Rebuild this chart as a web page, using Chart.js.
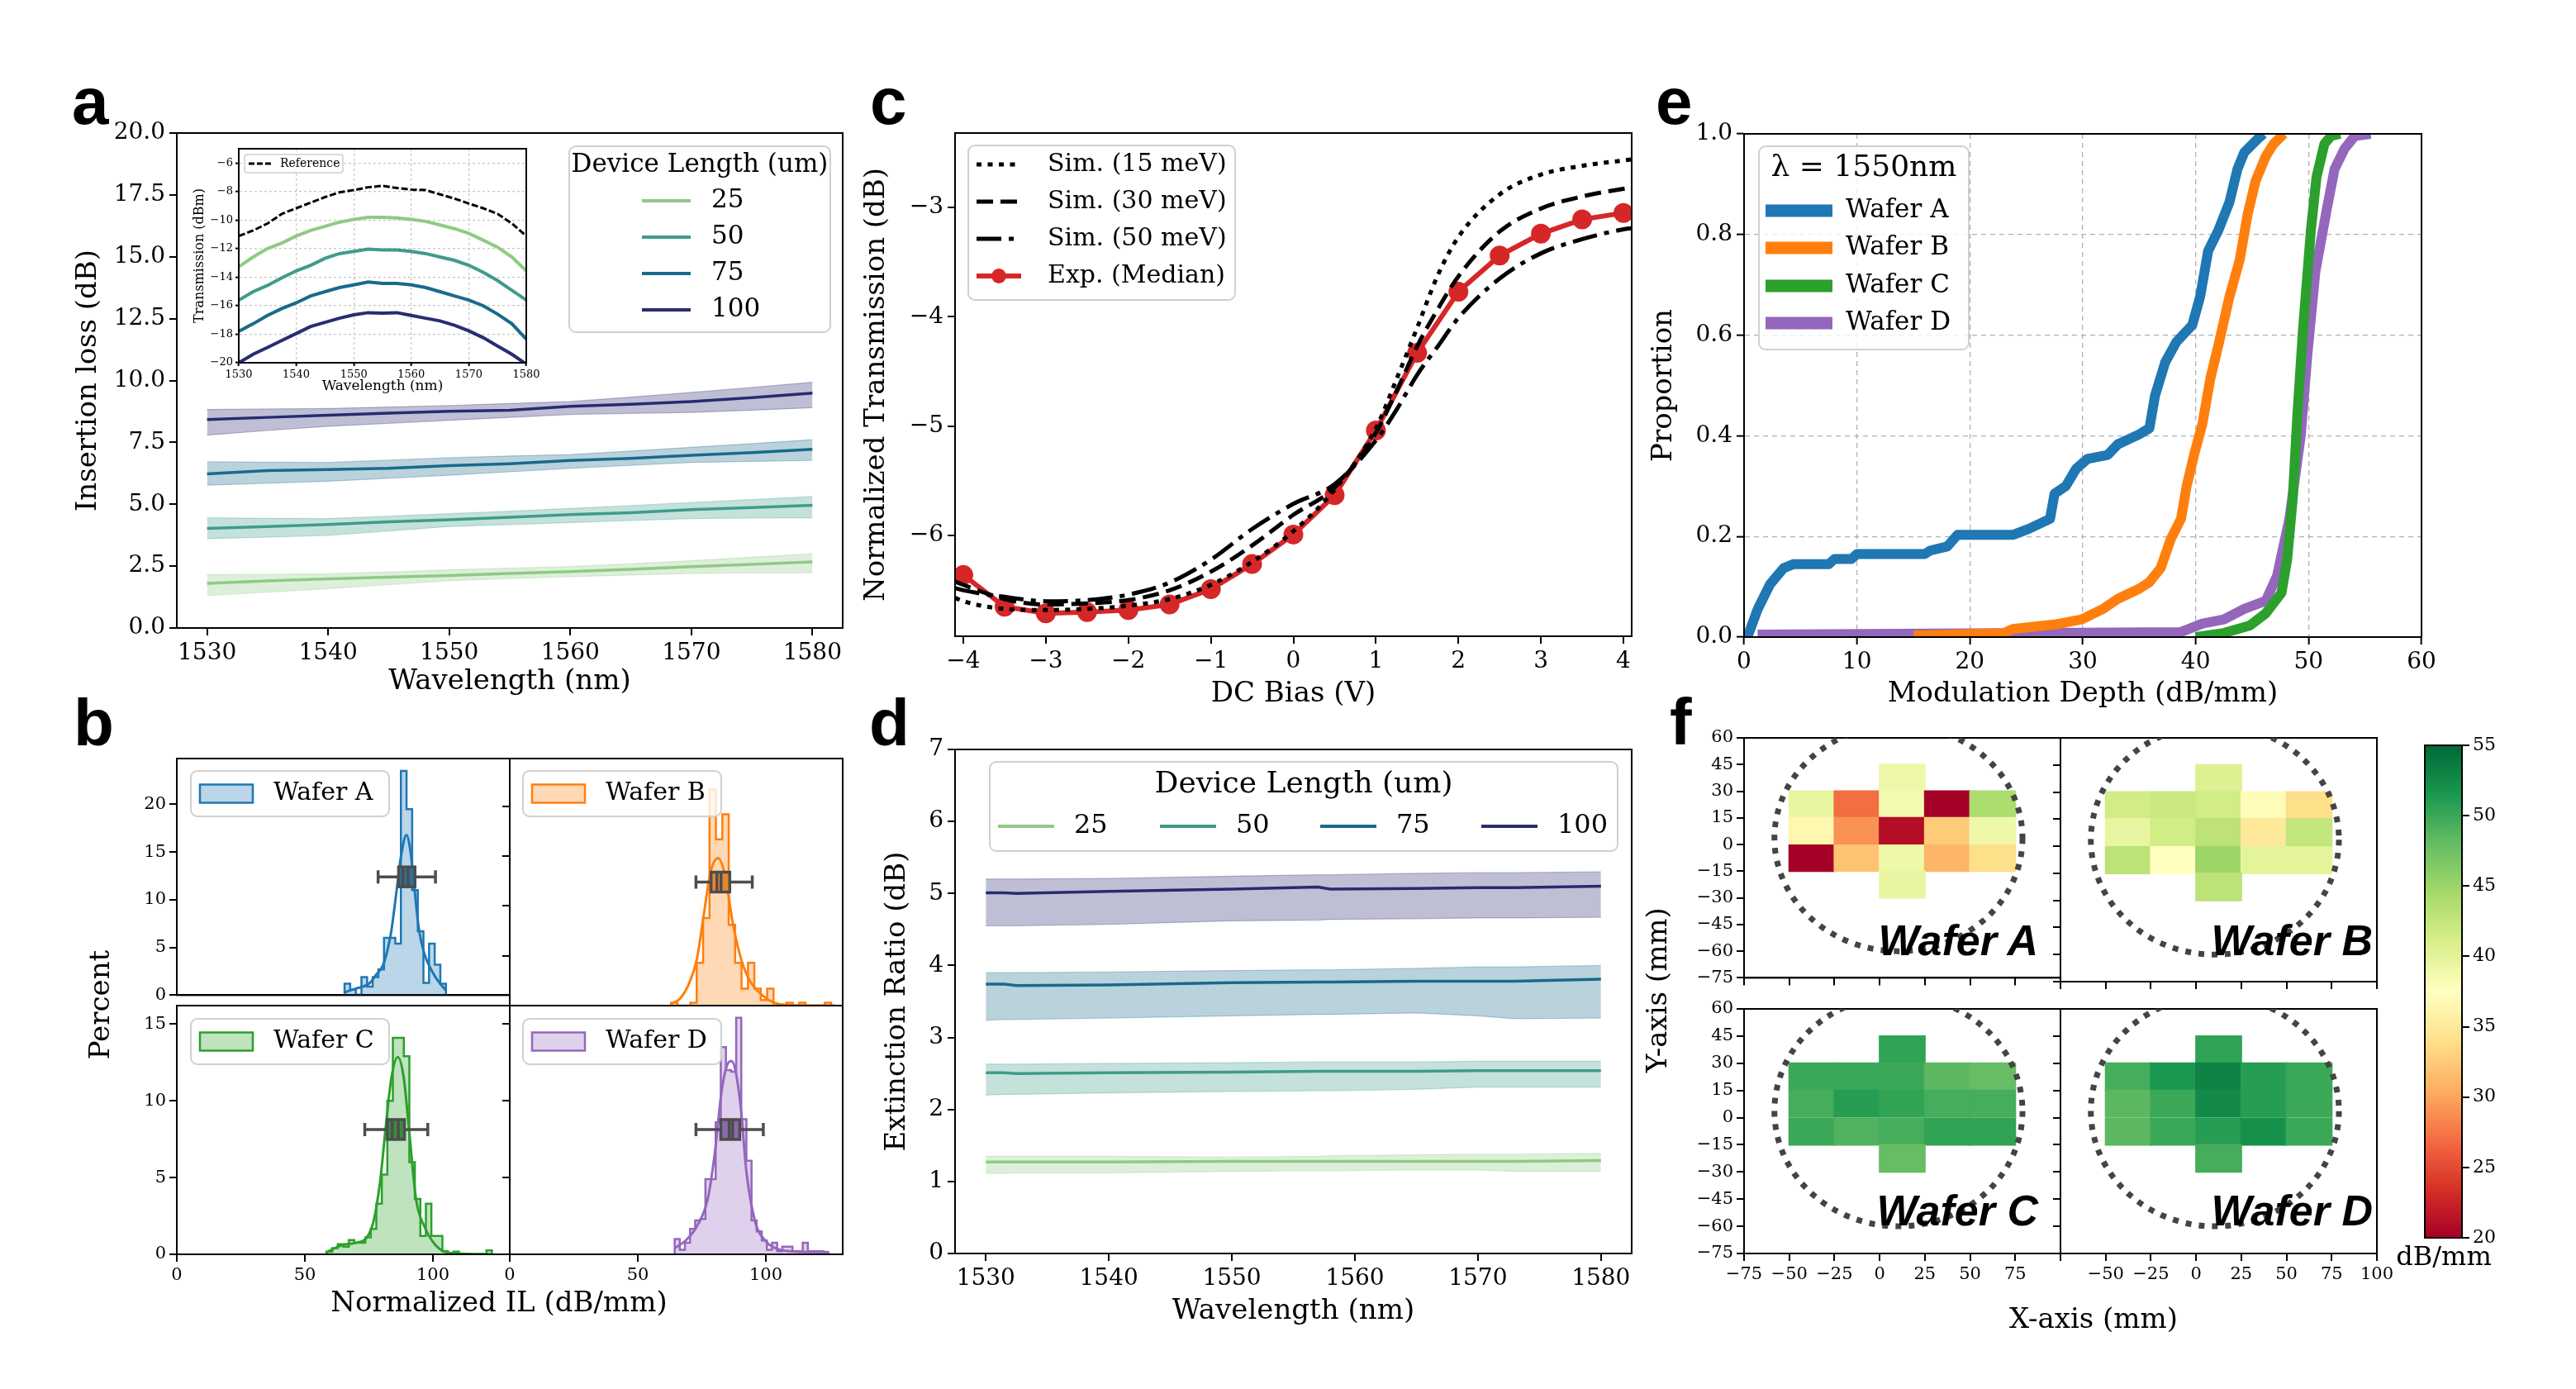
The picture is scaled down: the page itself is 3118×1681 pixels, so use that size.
<!DOCTYPE html>
<html>
<head>
<meta charset="utf-8">
<script src="https://cdn.jsdelivr.net/npm/chart.js"></script>
<style>
  body { margin: 0; width: 3118px; height: 1681px; position: relative; background: #fff; overflow: hidden; }
  canvas { position: absolute; }
  svg { position: absolute; left: 0; top: 0; }
</style>
</head>
<body>
<script>
const SERIF = "'DejaVu Serif', serif";
const SANS = "'Liberation Sans', Arial, sans-serif";

// ---------- panel a: insertion loss ----------
const wlTicks = [1530, 1540, 1550, 1560, 1570, 1580];
const ilTicks = [0, 2.5, 5, 7.5, 10, 12.5, 15, 17.5, 20];
const wlIL = [1530, 1535, 1540, 1545, 1550, 1555, 1560, 1565, 1570, 1575, 1580];
const il25 = [1.80, 1.90, 1.99, 2.05, 2.12, 2.20, 2.28, 2.37, 2.48, 2.57, 2.67];
const il25Lo = [1.31, 1.45, 1.59, 1.75, 1.91, 2.00, 2.07, 2.14, 2.20, 2.22, 2.23];
const il25Hi = [2.15, 2.17, 2.19, 2.27, 2.35, 2.42, 2.48, 2.60, 2.72, 2.86, 3.00];
const il50 = [4.02, 4.10, 4.18, 4.29, 4.37, 4.47, 4.58, 4.66, 4.78, 4.87, 4.96];
const il50Lo = [3.61, 3.67, 3.74, 3.92, 4.10, 4.18, 4.26, 4.34, 4.42, 4.44, 4.45];
const il50Hi = [4.45, 4.43, 4.42, 4.52, 4.62, 4.72, 4.83, 4.95, 5.07, 5.19, 5.31];
const il75 = [6.23, 6.36, 6.40, 6.45, 6.56, 6.64, 6.77, 6.85, 6.98, 7.09, 7.22];
const il75Lo = [5.77, 5.85, 5.93, 6.05, 6.17, 6.31, 6.45, 6.57, 6.69, 6.73, 6.77];
const il75Hi = [6.72, 6.70, 6.69, 6.78, 6.88, 6.95, 7.01, 7.15, 7.30, 7.45, 7.61];
const il100 = [8.42, 8.51, 8.60, 8.68, 8.76, 8.80, 8.96, 9.04, 9.15, 9.31, 9.49];
const il100Lo = [7.79, 7.98, 8.15, 8.27, 8.39, 8.51, 8.63, 8.67, 8.71, 8.80, 8.90];
const il100Hi = [8.83, 8.85, 8.87, 8.93, 8.99, 9.07, 9.15, 9.33, 9.52, 9.72, 9.93];

// inset spectra
const wlInset = [1530, 1532.5, 1535, 1537.5, 1540, 1542.5, 1545, 1547.5, 1550, 1552.5, 1555,
                 1557.5, 1560, 1562.5, 1565, 1567.5, 1570, 1572.5, 1575, 1577.5, 1580];
const trRef = [-11.12, -10.73, -10.24, -9.56, -9.17, -8.78, -8.39, -8.06, -7.90, -7.70, -7.60,
               -7.75, -7.86, -7.90, -8.20, -8.49, -8.84, -9.17, -9.56, -10.24, -11.12];
const tr25 = [-13.27, -12.59, -12.00, -11.61, -11.12, -10.73, -10.44, -10.15, -9.95, -9.81, -9.81,
              -9.85, -9.95, -10.09, -10.34, -10.60, -10.93, -11.41, -11.90, -12.59, -13.56];
const tr50 = [-15.61, -15.02, -14.58, -14.05, -13.56, -13.17, -12.68, -12.35, -12.20, -12.04, -12.10,
              -12.10, -12.20, -12.35, -12.59, -12.82, -13.17, -13.66, -14.24, -14.93, -15.61];
const tr75 = [-17.80, -17.27, -16.68, -16.20, -15.80, -15.32, -15.02, -14.73, -14.54, -14.34, -14.44,
              -14.44, -14.54, -14.73, -15.02, -15.32, -15.61, -16.00, -16.59, -17.27, -18.34];
const tr100 = [-20.00, -19.41, -18.93, -18.44, -17.95, -17.46, -17.17, -16.88, -16.64, -16.49, -16.52,
               -16.49, -16.68, -16.88, -17.07, -17.37, -17.76, -18.24, -18.83, -19.41, -20.10];
const trTicks = [-20, -18, -16, -14, -12, -10, -8, -6];

// ---------- panel b: normalized IL histograms ----------
const binA = [65.5, 2.2];
const pctA = [1.2, 0.6, 0.05, 1.9, 0.9, 1.9, 2.7, 6.0, 6.0, 5.4, 23.5, 19.5, 11.0, 6.7, 1.3, 5.4, 3.2, 1.2];
const binB = [63, 2.5];
const pctB = [0.3, 0, 0, 0.3, 4.3, 8.8, 21.7, 16.7, 19.2, 8.1, 4.3, 1.7, 4.3, 1.7, 0.55, 1.7,
              0, 0, 0.3, 0, 0.3, 0, 0, 0, 0.3];
const binC = [58.55, 2.15];
const pctC = [0.18, 0.4, 0.66, 0.5, 0.93, 0.75, 0.75, 1.1, 1.65, 3.3, 5.2, 10.0, 14.1, 14.1, 12.9,
              6.0, 3.6, 1.2, 3.3, 1.2, 1.2, 0.2, 0.05, 0.18, 0, 0, 0, 0, 0, 0.25];
const binD = [64.4, 2.0];
const pctD = [1.0, 0.3, 0.75, 1.65, 2.2, 2.3, 4.9, 4.9, 8.6, 13.5, 12.0, 11.9, 15.4, 8.8, 6.1,
              2.2, 1.5, 0.9, 0.3, 0.75, 0.2, 0.5, 0.5, 0.2, 0.2, 0.75, 0.2, 0.2, 0.2, 0.15];
const kdeAx = [65.5, 70, 75, 78, 80.6, 82.5, 83.8, 85.7, 87.5, 89.7, 91, 92.4, 93.5, 94.6, 96.7, 99.9, 102, 104.3, 105.1];
const kdeAy = [0.3, 0.7, 1.2, 2.2, 3.2, 5.0, 6.8, 10.7, 14.5, 16.8, 15.5, 12.3, 9.3, 6.8, 4.3, 2.4, 1.5, 0.75, 0.5];
const kdeBx = [62.8, 66.5, 69.8, 73, 75.7, 78.4, 81.4, 84.3, 87, 90.2, 93.5, 98.8, 103.1, 110, 127.1];
const kdeBy = [0.15, 0.7, 2.1, 4.6, 9.0, 13.4, 14.8, 12.8, 8.4, 4.8, 2.6, 1.0, 0.3, 0.05, 0];
const kdeCx = [58, 64.5, 69.9, 74.2, 76.9, 79.5, 81.7, 83.8, 86.3, 88.6, 90.8, 93.4, 96.7, 101, 105.3, 111.8, 122.5];
const kdeCy = [0.1, 0.6, 0.75, 1.1, 2.2, 4.9, 8.5, 11.5, 12.85, 11.5, 7.9, 3.6, 1.8, 0.6, 0.13, 0.04, 0];
const kdeDx = [64.4, 68.7, 73, 77.3, 80, 82.7, 84.8, 86.5, 88.1, 90.3, 92.4, 95.7, 100, 105.4, 111.8, 123.7];
const kdeDy = [0.4, 0.9, 1.8, 3.6, 6.5, 10.6, 12.3, 12.6, 12.0, 9.4, 5.4, 2.2, 0.85, 0.3, 0.18, 0.15];
// whisker low, q1, line 1, line 2, q3, whisker high
const boxA = [78.6, 86.6, 88.3, 90.3, 93.0, 101.0], boxAy = 12.4;
const boxB = [72.7, 78.6, 80.9, 82.5, 85.9, 94.7], boxBy = 12.4;
const boxC = [73.4, 82.2, 84.1, 86.5, 88.9, 98.0], boxCy = 8.13;
const boxD = [72.7, 82.4, 85.7, 87.0, 89.8, 99.0], boxDy = 8.13;

// ---------- panel c: bias sweep ----------
const biasV = [-4, -3.5, -3, -2.5, -2, -1.5, -1, -0.5, 0, 0.5, 1, 1.5, 2, 2.5, 3, 3.5, 4];
const expMedian = [-6.36, -6.65, -6.71, -6.70, -6.68, -6.63, -6.49, -6.26, -5.99, -5.63, -5.04,
                   -4.33, -3.77, -3.44, -3.24, -3.11, -3.05];
const simBias = [-4.1, -4, -3.5, -3, -2.5, -2, -1.5, -1, -0.5, 0, 0.5, 1, 1.25, 1.5, 1.75, 2, 2.5, 3, 3.5, 4, 4.1];
const sim15 = [-6.57, -6.60, -6.67, -6.68, -6.67, -6.64, -6.58, -6.45, -6.24, -5.96, -5.58, -5.02,
               -4.57, -4.10, -3.62, -3.27, -2.88, -2.70, -2.62, -2.57, -2.56];
const sim30 = [-6.42, -6.45, -6.58, -6.63, -6.62, -6.59, -6.50, -6.33, -6.09, -5.81, -5.56, -5.06,
               -4.68, -4.27, -3.93, -3.63, -3.22, -3.01, -2.90, -2.83, -2.82];
const sim50 = [-6.48, -6.50, -6.56, -6.60, -6.59, -6.54, -6.43, -6.22, -5.94, -5.71, -5.53, -5.13,
               -4.85, -4.53, -4.27, -4.01, -3.65, -3.42, -3.29, -3.20, -3.19];
const biasTicks = [-4, -3, -2, -1, 0, 1, 2, 3, 4];
const ntTicks = [-6, -5, -4, -3];

// ---------- panel d: extinction ratio ----------
const wlER = [1530, 1531.5, 1532.5, 1540, 1550, 1557, 1558, 1565, 1570, 1573, 1580];
const er25 = [1.27, 1.27, 1.27, 1.27, 1.28, 1.28, 1.28, 1.28, 1.28, 1.28, 1.29];
const er25Lo = [1.11, 1.11, 1.12, 1.12, 1.14, 1.15, 1.15, 1.16, 1.16, 1.14, 1.14];
const er25Hi = [1.35, 1.35, 1.35, 1.35, 1.34, 1.35, 1.36, 1.37, 1.38, 1.38, 1.39];
const er50 = [2.51, 2.51, 2.50, 2.51, 2.52, 2.53, 2.53, 2.53, 2.54, 2.54, 2.54];
const er50Lo = [2.20, 2.21, 2.21, 2.23, 2.25, 2.26, 2.26, 2.28, 2.31, 2.31, 2.31];
const er50Hi = [2.63, 2.63, 2.63, 2.64, 2.65, 2.66, 2.66, 2.66, 2.67, 2.67, 2.67];
const er75 = [3.74, 3.74, 3.72, 3.73, 3.76, 3.77, 3.77, 3.78, 3.78, 3.78, 3.81];
const er75Lo = [3.24, 3.25, 3.25, 3.27, 3.30, 3.32, 3.32, 3.34, 3.30, 3.26, 3.27];
const er75Hi = [3.90, 3.90, 3.90, 3.91, 3.93, 3.94, 3.94, 3.96, 3.98, 3.98, 4.00];
const er100 = [5.01, 5.01, 5.00, 5.03, 5.06, 5.09, 5.06, 5.07, 5.08, 5.08, 5.10];
const er100Lo = [4.55, 4.55, 4.55, 4.57, 4.62, 4.63, 4.64, 4.65, 4.66, 4.66, 4.67];
const er100Hi = [5.20, 5.20, 5.20, 5.21, 5.24, 5.26, 5.26, 5.28, 5.29, 5.29, 5.30];
const erTicks = [0, 1, 2, 3, 4, 5, 6, 7];

// ---------- panel e: modulation depth ECDF ----------
const mdAx = [0.3, 1.2, 2.3, 3.5, 4.4, 7.5, 8.0, 9.5, 10.0, 16.0, 16.5, 18.0, 18.9, 23.8, 25.2, 27.1, 27.5,
              28.5, 29.4, 30.4, 32.2, 33.1, 35.0, 35.9, 36.4, 37.3, 38.3, 39.7, 40.4, 41.1, 42.0, 43.0,
              43.7, 44.3, 45.5, 46.0];
const mdAy = [0, 0.055, 0.105, 0.137, 0.145, 0.145, 0.155, 0.155, 0.165, 0.165, 0.172, 0.18, 0.203, 0.203,
              0.215, 0.235, 0.285, 0.30, 0.334, 0.354, 0.362, 0.383, 0.403, 0.415, 0.48, 0.546, 0.587,
              0.62, 0.677, 0.767, 0.808, 0.865, 0.93, 0.963, 0.99, 1.0];
const mdBx = [15, 23, 23.8, 27.5, 29.9, 31.8, 33.1, 35.0, 35.9, 36.9, 37.8, 38.7, 39.2, 39.9, 40.6, 41.3,
              42.0, 43.0, 43.9, 44.6, 45.3, 46.2, 46.9, 47.8];
const mdBy = [0.003, 0.008, 0.016, 0.025, 0.035, 0.056, 0.076, 0.096, 0.109, 0.137, 0.195, 0.235, 0.30,
              0.366, 0.424, 0.514, 0.579, 0.677, 0.75, 0.84, 0.906, 0.955, 0.98, 1.0];
const mdCx = [40, 42.5, 44.8, 46.2, 47.6, 48.1, 48.6, 49.0, 49.5, 50.2, 50.7, 51.4, 52.0, 52.8];
const mdCy = [0, 0.008, 0.023, 0.047, 0.088, 0.154, 0.276, 0.44, 0.61, 0.808, 0.914, 0.98, 0.996, 1.0];
const mdDx = [1.2, 38.7, 40.6, 42.5, 44.3, 46.2, 47.2, 48.3, 49.3, 49.9, 50.6, 51.6, 52.3, 53.2, 54.1, 55.5];
const mdDy = [0.005, 0.01, 0.027, 0.035, 0.056, 0.072, 0.121, 0.235, 0.399, 0.563, 0.726, 0.849, 0.93,
              0.971, 0.996, 1.0];
const mdTicks = [0, 10, 20, 30, 40, 50, 60];
const propTicks = [0, 0.2, 0.4, 0.6, 0.8, 1.0];

// ---------- panel f: wafer maps ----------
const cellX = [-37.5, -12.5, 12.5, 37.5, 62.5];
const cellRows = [[30, 45], [15, 30], [0, 15], [-15, 0], [-30, -15]];
const mapA = [[null, null, 39, null, null], [39.5, 27, 38.5, 20, 44], [36.5, 29, 21, 32.5, 39],
              [20, 32, 39, 31, 34], [null, null, 39.5, null, null]];
const mapB = [[null, null, 40.5, null, null], [41.5, 42, 41.5, 37, 34], [39.5, 41.5, 43, 35, 42.5],
              [43, 37.5, 45, 40, 40], [null, null, 43, null, null]];
const mapC = [[null, null, 50.5, null, null], [50, 50, 50, 48.5, 48], [49.5, 51, 50.5, 49.5, 49.5],
              [50, 49, 49.5, 50.5, 50.5], [null, null, 48, null, null]];
const mapD = [[null, null, 50.5, null, null], [49.5, 51.5, 53, 51, 50], [48.5, 50, 52.5, 51, 50],
              [48.5, 50, 51, 52, 50], [null, null, 49.5, null, null]];
const waferCircle = [10.4, 3.6, 68.6, 63.6];
const mapTicksX = [-75, -50, -25, 0, 25, 50, 75, 100];
const mapTicksY = [-75, -60, -45, -30, -15, 0, 15, 30, 45, 60];
const cbTicks = [20, 25, 30, 35, 40, 45, 50, 55];

// ---------- styles ----------
const lenColors = ['#8fca85', '#3f9b8a', '#196a8b', '#282c70'];
const lenFills = ['rgba(143,202,133,0.3)', 'rgba(63,155,138,0.3)', 'rgba(25,106,139,0.3)', 'rgba(40,44,112,0.3)'];
const tab = ['#1f77b4', '#ff7f0e', '#2ca02c', '#9467bd'];
const tabFill = ['rgba(31,119,180,0.3)', 'rgba(255,127,14,0.3)', 'rgba(44,160,44,0.3)', 'rgba(148,103,189,0.3)'];
const boxFill = ['#2f6f9c', '#e8862c', '#3b8c3b', '#8a6aa8'];
const RdYlGn = ['#a50026', '#d73027', '#f46d43', '#fdae61', '#fee08b', '#ffffbf',
                '#d9ef8b', '#a6d96a', '#66bd63', '#1a9850', '#006837'];

Chart.defaults.font.family = SERIF;
Chart.defaults.color = '#000';
Chart.defaults.animation = false;
Chart.defaults.responsive = false;
Chart.defaults.devicePixelRatio = 1;
Chart.defaults.events = [];
Chart.defaults.plugins.legend.display = false;
Chart.defaults.plugins.tooltip.enabled = false;
Chart.defaults.elements.point.radius = 0;

const minus = v => String(v).replace('-', '\u2212');
const P = (xs, ys) => xs.map((x, i) => ({ x, y: ys[i] }));

function hexRgb(h) { return [1, 3, 5].map(i => parseInt(h.slice(i, i + 2), 16)); }
function cmap(v) {
  let t = Math.min(1, Math.max(0, (v - 20) / 35)) * 10;
  const i = Math.min(9, Math.floor(t)), f = t - i;
  const a = hexRgb(RdYlGn[i]), b = hexRgb(RdYlGn[i + 1]);
  return 'rgb(' + a.map((c, k) => Math.round(c + (b[k] - c) * f)).join(',') + ')';
}

function axis(o) {
  const a = {
    type: o.type || 'linear', min: o.min, max: o.max,
    afterBuildTicks: s => { s.ticks = o.ticks.map(v => ({ value: v })); },
    ticks: { display: o.labels !== false, font: { size: o.size }, padding: o.pad ?? 5, maxRotation: 0,
             autoSkip: false, callback: o.fmt || (v => minus(v)) },
    grid: { drawOnChartArea: !!o.grid, color: o.gridColor || '#000', tickColor: '#000',
            tickLength: o.tl ?? 9, lineWidth: o.grid ? 1.3 : 2, tickWidth: 2, drawTicks: o.tl !== 0 },
    border: { display: true, color: '#000', width: 2, dash: o.dash || [] },
    title: o.title ? { display: true, text: o.title, font: { size: o.titleSize || 34 }, padding: { top: 4, bottom: 4 } }
                   : { display: false }
  };
  if (o.pos) a.position = o.pos;
  return a;
}

function off(ch) { return [parseFloat(ch.canvas.style.left), parseFloat(ch.canvas.style.top)]; }

const framePlugin = {
  id: 'frame',
  afterDatasetsDraw(ch) {
    const { ctx, chartArea: a } = ch;
    ctx.save(); ctx.strokeStyle = '#000'; ctx.lineWidth = 2;
    ctx.strokeRect(a.left, a.top, a.width, a.height); ctx.restore();
  }
};
const whiteArea = {
  id: 'whiteArea',
  beforeDraw(ch) {
    const { ctx, chartArea: a } = ch;
    ctx.save(); ctx.fillStyle = '#fff'; ctx.fillRect(a.left, a.top, a.width, a.height); ctx.restore();
  }
};

function boxLegend(spec) {
  return {
    id: 'boxLegend',
    afterDraw(ch) {
      const ctx = ch.ctx, [ox, oy] = off(ch);
      const [x0, y0, x1, y1] = spec.box;
      ctx.save();
      ctx.beginPath();
      if (ctx.roundRect) ctx.roundRect(x0 - ox, y0 - oy, x1 - x0, y1 - y0, spec.r || 8);
      else ctx.rect(x0 - ox, y0 - oy, x1 - x0, y1 - y0);
      ctx.fillStyle = 'rgba(255,255,255,0.8)'; ctx.fill();
      ctx.strokeStyle = '#d0d0d0'; ctx.lineWidth = spec.bw || 2; ctx.stroke();
      ctx.textBaseline = 'middle'; ctx.fillStyle = '#000';
      if (spec.title) {
        ctx.font = spec.title.size + 'px ' + SERIF; ctx.textAlign = 'center';
        ctx.fillText(spec.title.text, spec.title.x - ox, spec.title.y - oy);
      }
      ctx.textAlign = 'left';
      spec.items.forEach(it => {
        const y = it.y - oy, hx = it.hx - ox;
        ctx.save();
        if (it.kind === 'rect') {
          ctx.fillStyle = it.fill; ctx.strokeStyle = it.color; ctx.lineWidth = 2.5;
          ctx.fillRect(hx, y - it.h / 2, it.hw, it.h); ctx.strokeRect(hx, y - it.h / 2, it.hw, it.h);
        } else {
          ctx.strokeStyle = it.color; ctx.lineWidth = it.lw; ctx.setLineDash(it.dash || []);
          ctx.beginPath(); ctx.moveTo(hx, y); ctx.lineTo(hx + it.hw, y); ctx.stroke();
          if (it.marker) {
            ctx.setLineDash([]); ctx.fillStyle = it.color;
            ctx.beginPath(); ctx.arc(hx + it.hw / 2, y, it.marker, 0, Math.PI * 2); ctx.fill();
          }
        }
        ctx.restore();
        ctx.fillStyle = '#000'; ctx.font = spec.size + 'px ' + SERIF;
        ctx.fillText(it.label, it.tx - ox, y);
      });
      ctx.restore();
    }
  };
}

function chartAt(area, yw, xh, cfg) {
  const [L, T, R, B] = area, pt = 30, pr = 60;
  const cv = document.createElement('canvas');
  const w = R - L + yw + pr, h = B - T + pt + xh;
  cv.width = w; cv.height = h;
  cv.style.left = (L - yw) + 'px'; cv.style.top = (T - pt) + 'px';
  document.body.appendChild(cv);
  cfg.options.layout = { padding: { top: pt, right: pr, left: 0, bottom: 0 } };
  cfg.options.scales.x.afterFit = s => { s.height = xh; };
  cfg.options.scales.y.afterFit = s => { s.width = yw; };
  cfg.plugins = [framePlugin].concat(cfg.plugins || []);
  return new Chart(cv, cfg);
}

function lineSet(xs, ys, color, lw, extra) {
  return Object.assign({ data: P(xs, ys), borderColor: color, borderWidth: lw, pointRadius: 0, fill: false }, extra || {});
}
function bandSets(xs, lo, hi, fillCol) {
  return [
    { data: P(xs, lo), borderColor: fillCol, borderWidth: 1.2, pointRadius: 0, fill: false },
    { data: P(xs, hi), borderColor: fillCol, borderWidth: 1.2, pointRadius: 0, fill: '-1', backgroundColor: fillCol }
  ];
}

// ================= panel a =================
{
  const sets = [];
  [[il25, il25Lo, il25Hi], [il50, il50Lo, il50Hi], [il75, il75Lo, il75Hi], [il100, il100Lo, il100Hi]].forEach((s, k) => {
    sets.push(...bandSets(wlIL, s[1], s[2], lenFills[k]));
    sets.push(lineSet(wlIL, s[0], lenColors[k], 3.5));
  });
  const lengths = ['25', '50', '75', '100'];
  chartAt([214, 161, 1020, 760], 131, 90, {
    type: 'line',
    data: { datasets: sets },
    options: { scales: {
      x: axis({ min: 1527.5, max: 1582.5, ticks: wlTicks, size: 28, title: 'Wavelength (nm)' }),
      y: axis({ min: 0, max: 20, ticks: ilTicks, size: 28, fmt: v => v.toFixed(1), title: 'Insertion loss (dB)' })
    } },
    plugins: [boxLegend({
      box: [689, 177, 1005, 402], size: 31,
      title: { text: 'Device Length (um)', x: 847, y: 200, size: 31 },
      items: lengths.map((l, k) => ({ label: l, color: lenColors[k], lw: 4, hx: 777, hw: 59, tx: 861, y: [243, 287, 331, 375][k] }))
    })]
  });

  // inset
  chartAt([289, 180, 637, 439], 61, 43, {
    type: 'line',
    data: { datasets: [
      lineSet(wlInset, trRef, '#000', 3, { borderDash: [8, 3] }),
      lineSet(wlInset, tr25, lenColors[0], 4),
      lineSet(wlInset, tr50, lenColors[1], 4),
      lineSet(wlInset, tr75, lenColors[2], 4),
      lineSet(wlInset, tr100, lenColors[3], 4)
    ] },
    options: { scales: {
      x: axis({ min: 1530, max: 1580, ticks: wlTicks, size: 13, tl: 4, pad: 3, grid: true, gridColor: '#c8c8c8', dash: [3, 3],
                title: 'Wavelength (nm)', titleSize: 17 }),
      y: axis({ min: -20, max: -5, ticks: trTicks, size: 13, tl: 4, pad: 3, grid: true, gridColor: '#c8c8c8', dash: [3, 3],
                title: 'Transmission (dBm)', titleSize: 16 })
    } },
    plugins: [whiteArea, boxLegend({
      box: [296, 187, 415, 209], size: 14, r: 3, bw: 1.5,
      items: [{ label: 'Reference', color: '#000', lw: 3, dash: [7, 3], hx: 301, hw: 29, tx: 339, y: 198 }]
    })]
  });
}

// ================= panel b =================
function stepPts(bin, h) {
  const [s, w] = bin, pts = [{ x: s, y: 0 }];
  h.forEach((v, i) => pts.push({ x: s + i * w, y: v }));
  pts.push({ x: s + h.length * w, y: h[h.length - 1] });
  pts.push({ x: s + h.length * w, y: 0 });
  return pts;
}
function boxPlot(st, yv, fill) {
  return {
    id: 'boxPlot',
    afterDatasetsDraw(ch) {
      const { ctx, scales: { x, y } } = ch;
      const px = v => x.getPixelForValue(v), yc = y.getPixelForValue(yv);
      const hh = 12, ch2 = 8;
      ctx.save();
      ctx.strokeStyle = '#4d4d4d'; ctx.lineWidth = 3.5;
      ctx.beginPath();
      ctx.moveTo(px(st[0]), yc); ctx.lineTo(px(st[1]), yc);
      ctx.moveTo(px(st[4]), yc); ctx.lineTo(px(st[5]), yc);
      ctx.moveTo(px(st[0]), yc - ch2); ctx.lineTo(px(st[0]), yc + ch2);
      ctx.moveTo(px(st[5]), yc - ch2); ctx.lineTo(px(st[5]), yc + ch2);
      ctx.stroke();
      ctx.fillStyle = fill;
      ctx.fillRect(px(st[1]), yc - hh, px(st[4]) - px(st[1]), 2 * hh);
      ctx.strokeRect(px(st[1]), yc - hh, px(st[4]) - px(st[1]), 2 * hh);
      ctx.beginPath();
      ctx.moveTo(px(st[2]), yc - hh); ctx.lineTo(px(st[2]), yc + hh);
      ctx.moveTo(px(st[3]), yc - hh); ctx.lineTo(px(st[3]), yc + hh);
      ctx.stroke();
      ctx.restore();
    }
  };
}
{
  const subs = [
    { area: [214, 918, 617, 1217], yw: 62, xh: 4, ymax: 24.8, yt: [0, 5, 10, 15, 20], bin: binA, h: pctA, kx: kdeAx, ky: kdeAy, box: boxA, by: boxAy, name: 'Wafer A', lx: 231, ly: [933, 988], left: true, bottom: false },
    { area: [617, 918, 1020, 1217], yw: 12, xh: 4, ymax: 24.8, yt: [0, 5, 10, 15, 20], bin: binB, h: pctB, kx: kdeBx, ky: kdeBy, box: boxB, by: boxBy, name: 'Wafer B', lx: 633, ly: [933, 988], left: false, bottom: false },
    { area: [214, 1217, 617, 1518], yw: 62, xh: 40, ymax: 16.2, yt: [0, 5, 10, 15], bin: binC, h: pctC, kx: kdeCx, ky: kdeCy, box: boxC, by: boxCy, name: 'Wafer C', lx: 231, ly: [1233, 1288], left: true, bottom: true },
    { area: [617, 1217, 1020, 1518], yw: 12, xh: 40, ymax: 16.2, yt: [0, 5, 10, 15], bin: binD, h: pctD, kx: kdeDx, ky: kdeDy, box: boxD, by: boxDy, name: 'Wafer D', lx: 633, ly: [1233, 1288], left: false, bottom: true }
  ];
  subs.forEach((s, k) => {
    chartAt(s.area, s.yw, s.xh, {
      type: 'line',
      data: { datasets: [
        { data: stepPts(s.bin, s.h), stepped: true, borderColor: tab[k], borderWidth: 2.5, pointRadius: 0,
          fill: 'origin', backgroundColor: tabFill[k] },
        lineSet(s.kx, s.ky, tab[k], 3, { cubicInterpolationMode: 'monotone' })
      ] },
      options: { scales: {
        x: axis({ min: 0, max: 130, ticks: [0, 50, 100], size: 21, labels: s.bottom, tl: s.bottom ? 9 : 0, pad: 4 }),
        y: axis({ min: 0, max: s.ymax, ticks: s.yt, size: 21, labels: s.left, pad: 4 })
      } },
      plugins: [boxPlot(s.box, s.by, boxFill[k]), boxLegend({
        box: [s.lx, s.ly[0], s.lx + 240, s.ly[1]], size: 30,
        items: [{ kind: 'rect', label: s.name, color: tab[k], fill: tabFill[k], hx: s.lx + 11, hw: 64, h: 22,
                  tx: s.lx + 100, y: (s.ly[0] + s.ly[1]) / 2 }]
      })]
    });
  });
}

// ================= panel c =================
chartAt([1156, 161, 1975, 770], 119, 95, {
  type: 'line',
  data: { datasets: [
    lineSet(simBias, sim15, '#000', 5, { borderDash: [6, 7.5], cubicInterpolationMode: 'monotone' }),
    lineSet(simBias, sim30, '#000', 5, { borderDash: [20, 9], cubicInterpolationMode: 'monotone' }),
    lineSet(simBias, sim50, '#000', 5, { borderDash: [30, 9, 6, 9], cubicInterpolationMode: 'monotone' }),
    lineSet(biasV, expMedian, '#d62728', 6, { pointRadius: 9, pointBackgroundColor: '#d62728', pointBorderColor: '#d62728' })
  ] },
  options: { scales: {
    x: axis({ min: -4.1, max: 4.1, ticks: biasTicks, size: 28, title: 'DC Bias (V)' }),
    y: axis({ min: -6.92, max: -2.32, ticks: ntTicks, size: 28, title: 'Normalized Transmission (dB)' })
  } },
  plugins: [boxLegend({
    box: [1172, 176, 1495, 363], size: 30,
    items: [
      { label: 'Sim. (15 meV)', color: '#000', lw: 5, dash: [6, 7.5], hx: 1182, hw: 54, tx: 1268, y: 199 },
      { label: 'Sim. (30 meV)', color: '#000', lw: 5, dash: [20, 9], hx: 1182, hw: 54, tx: 1268, y: 244 },
      { label: 'Sim. (50 meV)', color: '#000', lw: 5, dash: [30, 9, 6, 9], hx: 1182, hw: 54, tx: 1268, y: 289 },
      { label: 'Exp. (Median)', color: '#d62728', lw: 6, marker: 9, hx: 1182, hw: 54, tx: 1268, y: 334 }
    ]
  })]
});

// ================= panel d =================
{
  const sets = [];
  [[er25, er25Lo, er25Hi], [er50, er50Lo, er50Hi], [er75, er75Lo, er75Hi], [er100, er100Lo, er100Hi]].forEach((s, k) => {
    sets.push(...bandSets(wlER, s[1], s[2], lenFills[k]));
    sets.push(lineSet(wlER, s[0], lenColors[k], 3.5));
  });
  const hxs = [1208, 1404, 1598, 1793];
  chartAt([1156, 907, 1975, 1517], 94, 95, {
    type: 'line',
    data: { datasets: sets },
    options: { scales: {
      x: axis({ min: 1527.5, max: 1582.5, ticks: wlTicks, size: 28, title: 'Wavelength (nm)' }),
      y: axis({ min: 0, max: 7, ticks: erTicks, size: 28, title: 'Extinction Ratio (dB)' })
    } },
    plugins: [boxLegend({
      box: [1198, 922, 1958, 1030], size: 32,
      title: { text: 'Device Length (um)', x: 1578, y: 950, size: 36 },
      items: ['25', '50', '75', '100'].map((l, k) => ({ label: l, color: lenColors[k], lw: 4, hx: hxs[k], hw: 68, tx: hxs[k] + 92, y: 1000 }))
    })]
  });
}

// ================= panel e =================
chartAt([2111, 162, 2931, 771], 121, 94, {
  type: 'line',
  data: { datasets: [
    lineSet(mdAx, mdAy, tab[0], 12, { borderJoinStyle: 'round', clip: 0 }),
    lineSet(mdBx, mdBy, tab[1], 12, { borderJoinStyle: 'round', clip: 0 }),
    lineSet(mdCx, mdCy, tab[2], 12, { borderJoinStyle: 'round', clip: 0 }),
    lineSet(mdDx, mdDy, tab[3], 12, { borderJoinStyle: 'round', clip: 0 })
  ] },
  options: { scales: {
    x: axis({ min: 0, max: 60, ticks: mdTicks, size: 28, grid: true, gridColor: '#b0b0b0', dash: [6, 5], title: 'Modulation Depth (dB/mm)' }),
    y: axis({ min: 0, max: 1, ticks: propTicks, size: 28, fmt: v => v.toFixed(1), grid: true, gridColor: '#b0b0b0', dash: [6, 5], title: 'Proportion' })
  } },
  plugins: [boxLegend({
    box: [2129, 177, 2383, 423], size: 31,
    title: { text: '\u03bb = 1550nm', x: 2256, y: 204, size: 36 },
    items: ['Wafer A', 'Wafer B', 'Wafer C', 'Wafer D'].map((l, k) => ({ label: l, color: tab[k], lw: 15, hx: 2137, hw: 81, tx: 2234, y: [255, 300, 346, 391][k] }))
  })]
});

// ================= panel f =================
function outline() {
  return {
    id: 'outline',
    afterDatasetsDraw(ch) {
      const { ctx, chartArea: a, scales: { x, y } } = ch;
      const [cx0, cy0, rx0, ry0] = waferCircle;
      const cx = x.getPixelForValue(cx0), cy = y.getPixelForValue(cy0);
      const rx = Math.abs(x.getPixelForValue(cx0 + rx0) - cx), ry = Math.abs(y.getPixelForValue(cy0 + ry0) - cy);
      ctx.save();
      ctx.beginPath(); ctx.rect(a.left, a.top, a.width, a.height); ctx.clip();
      ctx.strokeStyle = '#444'; ctx.lineWidth = 7; ctx.setLineDash([7, 9]);
      ctx.beginPath(); ctx.ellipse(cx, cy, rx, ry, 0, 0, Math.PI * 2); ctx.stroke();
      ctx.restore();
    }
  };
}
function cells(map) {
  const out = [];
  map.forEach((row, r) => row.forEach((v, c) => {
    if (v !== null) out.push({ x: cellX[c], y: cellRows[r], v });
  }));
  return out;
}
{
  const subs = [
    { area: [2111, 893, 2494, 1188], yw: 60, xh: 12, map: mapA, left: true, bottom: false },
    { area: [2494, 893, 2877, 1188], yw: 12, xh: 12, map: mapB, left: false, bottom: false },
    { area: [2111, 1221, 2494, 1517], yw: 60, xh: 40, map: mapC, left: true, bottom: true },
    { area: [2494, 1221, 2877, 1517], yw: 12, xh: 40, map: mapD, left: false, bottom: true }
  ];
  subs.forEach(s => {
    const xa = axis({ min: -75, max: 100, ticks: mapTicksX, size: 21, labels: s.bottom, pad: 4,
                      fmt: v => (s.left && v === 100) || (!s.left && v === -75) ? '' : minus(v) });
    xa.offset = false; xa.grid.offset = false;
    chartAt(s.area, s.yw, s.xh, {
      type: 'bar',
      data: { datasets: [{
        data: cells(s.map), grouped: false, barPercentage: 1, categoryPercentage: 1,
        borderWidth: 0, borderSkipped: false, inflateAmount: 1,
        backgroundColor: c => c.raw ? cmap(c.raw.v) : '#fff'
      }] },
      options: { scales: {
        x: xa,
        y: axis({ min: -75, max: 60, ticks: mapTicksY, size: 21, labels: s.left, pad: 4 })
      } },
      plugins: [outline()]
    });
  });

  // colorbar
  const cv = document.createElement('canvas');
  cv.width = 110; cv.height = 656;
  cv.style.left = '2930px'; cv.style.top = '872px';
  document.body.appendChild(cv);
  const yc = axis({ min: 20, max: 55, ticks: cbTicks, size: 22, pos: 'right', pad: 4 });
  yc.afterFit = s => { s.width = 60; };
  new Chart(cv, {
    type: 'bar',
    data: { labels: ['cb'], datasets: [{
      data: [[20, 55]], barPercentage: 1, categoryPercentage: 1, borderWidth: 0,
      backgroundColor: c => {
        const a = c.chart.chartArea;
        if (!a) return '#ffffbf';
        const g = c.chart.ctx.createLinearGradient(0, a.bottom, 0, a.top);
        RdYlGn.forEach((col, i) => g.addColorStop(i / 10, col));
        return g;
      }
    }] },
    options: {
      layout: { padding: { left: 5, top: 30, right: 0, bottom: 30 } },
      scales: { x: { display: false }, y: yc }
    },
    plugins: [framePlugin]
  });
}

// ================= free text (panel letters, shared labels) =================
{
  const NS = 'http://www.w3.org/2000/svg';
  const svg = document.createElementNS(NS, 'svg');
  svg.setAttribute('width', 3118); svg.setAttribute('height', 1681);
  document.body.appendChild(svg);
  function txt(s, x, y, o) {
    const t = document.createElementNS(NS, 'text');
    t.textContent = s;
    t.setAttribute('x', x); t.setAttribute('y', y);
    t.setAttribute('font-family', o.family || SERIF);
    t.setAttribute('font-size', o.size);
    if (o.weight) t.setAttribute('font-weight', o.weight);
    if (o.italic) t.setAttribute('font-style', 'italic');
    t.setAttribute('text-anchor', o.anchor || 'start');
    if (o.mid) t.setAttribute('dominant-baseline', 'central');
    if (o.rot) t.setAttribute('transform', `rotate(-90 ${x} ${y})`);
    svg.appendChild(t);
  }
  [['a', 87, 150], ['b', 89, 902], ['c', 1053, 150], ['d', 1052, 902], ['e', 2004, 150], ['f', 2021, 901]]
    .forEach(l => txt(l[0], l[1], l[2], { family: SANS, size: 80, weight: 'bold' }));
  txt('Percent', 120, 1216, { size: 34, anchor: 'middle', mid: true, rot: true });
  txt('Normalized IL (dB/mm)', 604, 1587, { size: 34, anchor: 'middle' });
  txt('Y-axis (mm)', 2005, 1198, { size: 34, anchor: 'middle', mid: true, rot: true });
  txt('X-axis (mm)', 2534, 1607, { size: 34, anchor: 'middle' });
  txt('dB/mm', 2958, 1531, { size: 32, anchor: 'middle' });
  [['Wafer A', 2467, 1156], ['Wafer B', 2872, 1156], ['Wafer C', 2467, 1483], ['Wafer D', 2872, 1483]]
    .forEach(l => txt(l[0], l[1], l[2], { family: SANS, size: 52, weight: 'bold', italic: true, anchor: 'end' }));
}
</script>
</body>
</html>
